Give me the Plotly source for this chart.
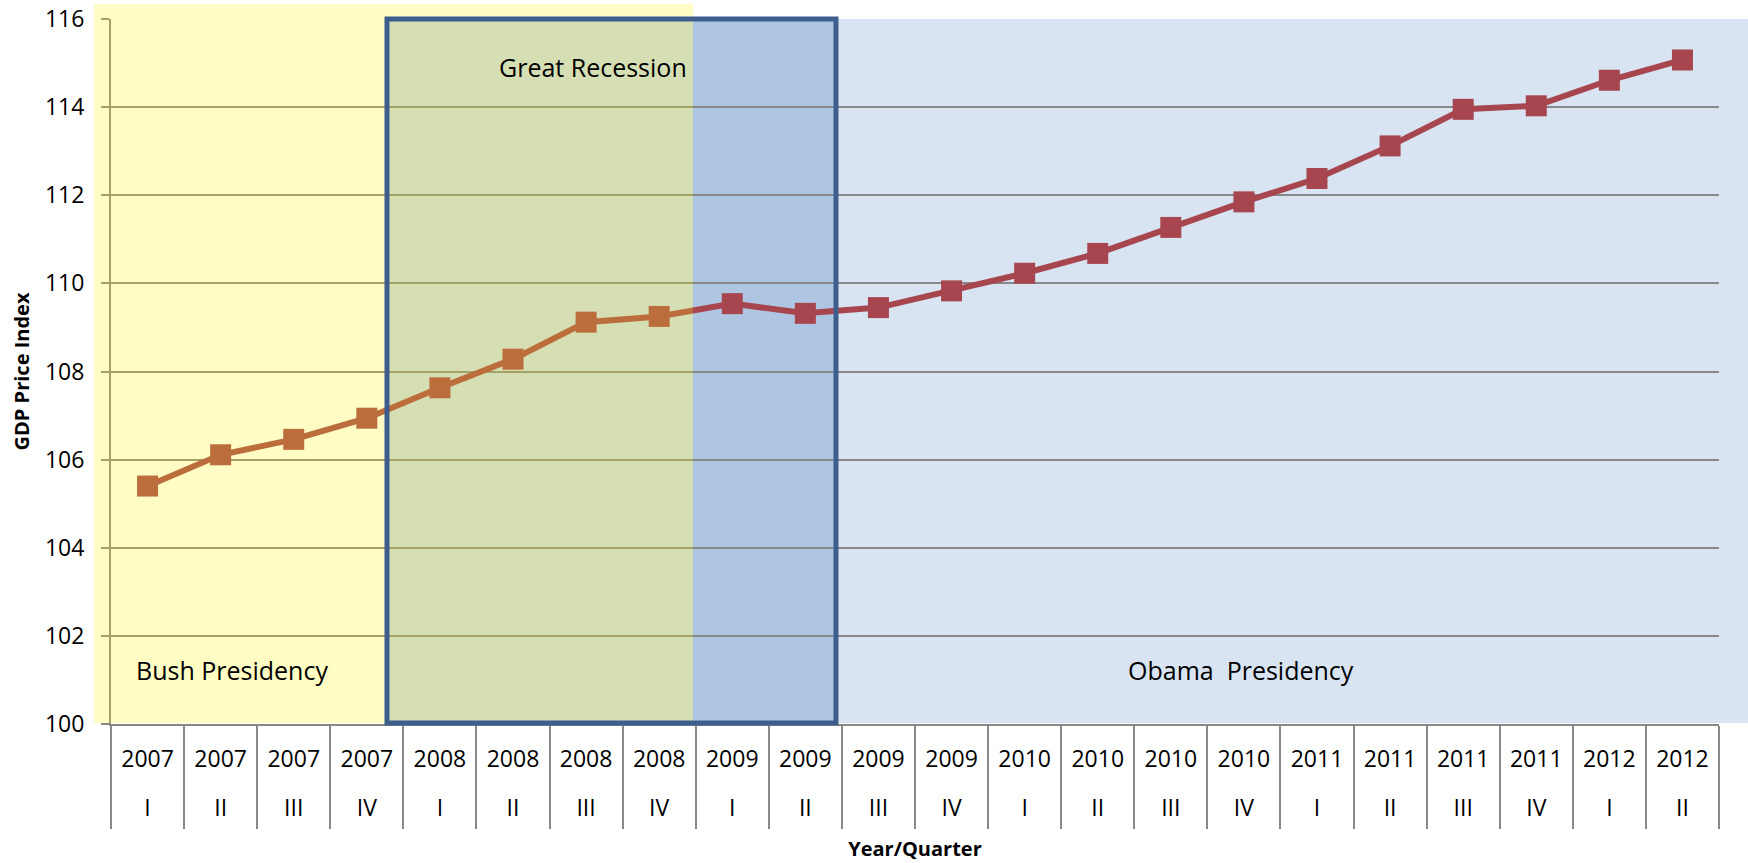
import plotly.graph_objects as go

# GDP price index by year and quarter
years = ["2007"] * 4 + ["2008"] * 4 + ["2009"] * 4 + ["2010"] * 4 + ["2011"] * 4 + ["2012"] * 2
quarters = ["I", "II", "III", "IV"] * 5 + ["I", "II"]
gdp_price_index = [105.40, 106.11, 106.46, 106.94, 107.63, 108.28, 109.12, 109.25,
                   109.54, 109.32, 109.45, 109.83, 110.23, 110.68, 111.27, 111.85,
                   112.38, 113.12, 113.95, 114.03, 114.61, 115.07]

# Period labels and where they sit (category index, index value)
period_labels = ["Bush Presidency", "Great Recession", "Obama  Presidency"]
period_label_x = [1.16, 6.09, 14.96]
period_label_y = [101.23, 114.91, 101.23]

categories = [f"{y} {q}" for y, q in zip(years, quarters)]
n = len(categories)
y_min, y_max = 100, 116

FONT = "Open Sans"
GRID = "#888888"
LINE_COLOR = "#A8464F"
BOX_COLOR = "#3D5E8C"


def xp(idx):
    """category index -> paper x"""
    return (idx + 0.5) / n


def yp(v):
    """index value -> paper y"""
    return (v - y_min) / (y_max - y_min)


fig = go.Figure()

fig.add_trace(go.Scatter(
    x=categories, y=gdp_price_index,
    mode="lines+markers",
    line=dict(color=LINE_COLOR, width=6),
    marker=dict(symbol="square", size=21, color=LINE_COLOR),
    showlegend=False, hoverinfo="x+y",
))
# carrier trace for the quarter axis
fig.add_trace(go.Scatter(
    x=categories, y=gdp_price_index, xaxis="x2",
    mode="markers", marker=dict(opacity=0),
    showlegend=False, hoverinfo="skip",
))

shapes = [
    # Obama presidency shading
    dict(type="rect", xref="paper", yref="paper", layer="below",
         x0=xp(7.46), x1=xp(21.9), y0=yp(100.02), y1=yp(116),
         fillcolor="#D8E4F2", line=dict(width=0)),
    # recession box fill
    dict(type="rect", xref="paper", yref="paper", layer="below",
         x0=xp(3.276), x1=xp(9.419), y0=yp(100.02), y1=yp(116),
         fillcolor="rgba(79,129,189,0.30)", line=dict(width=0)),
    # Bush presidency shading (tints what lies beneath)
    dict(type="rect", xref="paper", yref="paper", layer="above",
         x0=xp(-0.733), x1=xp(7.46), y0=yp(100.02), y1=yp(116.34),
         fillcolor="rgba(255,242,0,0.23)", line=dict(width=0)),
    # recession box outline
    dict(type="rect", xref="paper", yref="paper", layer="above",
         x0=xp(3.276), x1=xp(9.419), y0=yp(100.02), y1=yp(116),
         fillcolor="rgba(0,0,0,0)", line=dict(color=BOX_COLOR, width=5)),
]

annotations = [
    dict(text=t, x=xp(xi), y=yp(yi), xref="paper", yref="paper",
         xanchor="center", yanchor="middle",
         showarrow=False, font=dict(family=FONT, size=25, color="black"))
    for t, xi, yi in zip(period_labels, period_label_x, period_label_y)
]

fig.update_layout(
    width=1748, height=863,
    margin=dict(l=111, r=29, t=19, b=139, autoexpand=False),
    paper_bgcolor="white",
    plot_bgcolor="rgba(0,0,0,0)",
    font=dict(family=FONT, color="black"),
    shapes=shapes,
    annotations=annotations,
    xaxis=dict(
        type="category", categoryorder="array", categoryarray=categories,
        range=[-0.5, n - 0.5], automargin=False,
        tickmode="array", tickvals=categories, ticktext=years,
        tickson="boundaries", ticks="outside", ticklen=103,
        tickcolor=GRID, tickwidth=2,
        showline=True, linecolor=GRID, linewidth=2,
        showgrid=False, zeroline=False,
        tickfont=dict(family=FONT, size=23, color="black"),
        ticklabelstandoff=13,
    ),
    xaxis2=dict(
        type="category", categoryorder="array", categoryarray=categories,
        range=[-0.5, n - 0.5], automargin=False,
        overlaying="x", anchor="y", side="bottom",
        tickmode="array", tickvals=categories, ticktext=quarters,
        ticks="", showline=False, showgrid=False, zeroline=False,
        tickfont=dict(family=FONT, size=23, color="black"),
        ticklabelstandoff=68,
        title=dict(text="Year/Quarter", standoff=19,
                   font=dict(family=FONT, size=20, color="black", weight="bold")),
    ),
    yaxis=dict(
        range=[y_min, y_max], dtick=2, automargin=False,
        showgrid=True, gridcolor=GRID, gridwidth=2,
        showline=True, linecolor=GRID, linewidth=2,
        ticks="outside", ticklen=8, tickcolor=GRID, tickwidth=2,
        zeroline=False,
        tickfont=dict(family=FONT, size=23, color="black"),
        ticklabelstandoff=12,
        title=dict(text="GDP Price Index", standoff=10,
                   font=dict(family=FONT, size=20, color="black", weight="bold")),
    ),
)

fig.write_html("out.html")
